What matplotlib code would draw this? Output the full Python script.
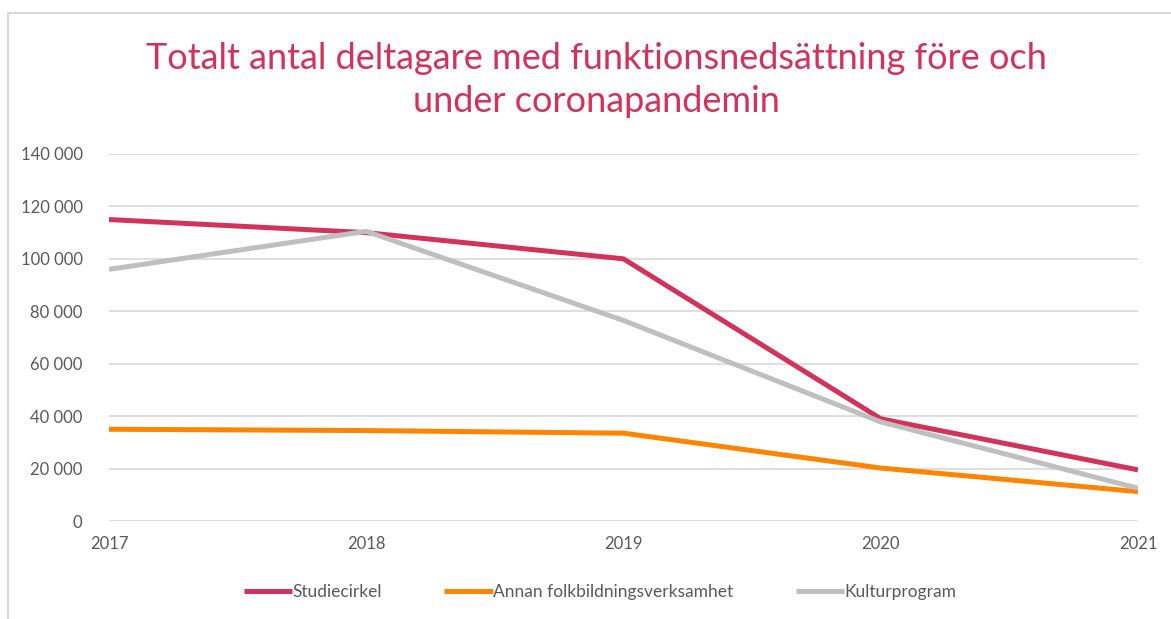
import matplotlib
matplotlib.use("Agg")
import matplotlib.pyplot as plt
from matplotlib.patches import Rectangle
from matplotlib.ticker import FuncFormatter

years = [2017, 2018, 2019, 2020, 2021]
series_names = ["Studiecirkel", "Annan folkbildningsverksamhet", "Kulturprogram"]
studiecirkel = [115000, 110000, 100000, 39000, 19500]
annan = [35000, 34500, 33500, 20200, 11200]
kulturprogram = [96000, 110500, 76500, 37800, 12500]
colors = ["#D1335C", "#FF8500", "#BFBFBF"]
y_ticks = [0, 20000, 40000, 60000, 80000, 100000, 120000, 140000]
title = "Totalt antal deltagare med funktionsnedsättning före och\nunder coronapandemin"

plt.rcParams['font.family'] = ['Lato', 'DejaVu Sans']

W, H = 1171, 619
fig = plt.figure(figsize=(W / 100, H / 100), dpi=100)
fig.patch.set_facecolor("white")

# chart border
fig.patches.append(Rectangle((8 / W, -0.1), 1.2, (H - 13) / H + 0.1, transform=fig.transFigure,
                             fill=False, edgecolor="#D9D9D9", linewidth=1.5))

ax = fig.add_axes([109 / W, 1 - 521 / H, (1138 - 109) / W, (521 - 154) / H])
for name, vals, c in zip(series_names, [studiecirkel, annan, kulturprogram], colors):
    ax.plot(years, vals, color=c, linewidth=3.6, label=name, solid_capstyle="butt", zorder=3)

ax.set_xlim(years[0], years[-1])
ax.set_ylim(0, 140000)
ax.set_yticks(y_ticks)
ax.yaxis.set_major_formatter(FuncFormatter(lambda v, p: f"{int(v):,}".replace(",", " ")))
ax.set_xticks(years)
ax.grid(axis="y", color="#D9D9D9", linewidth=1.2, zorder=0)
for s in ax.spines.values():
    s.set_visible(False)
ax.tick_params(axis="both", length=0, colors="#595959", labelsize=12)
ax.tick_params(axis="y", pad=19)
ax.tick_params(axis="x", pad=11)

fig.text(596 / W, 1 - 80 / H, title, ha="center", va="center", fontsize=26,
         color="#D1335C", linespacing=1.4)

leg = fig.legend(loc="center", bbox_to_anchor=(600 / W, 1 - 592 / H), ncol=3, frameon=False,
                 fontsize=12.5, handlelength=2.8, handletextpad=0.0, columnspacing=3.6)
for t in leg.get_texts():
    t.set_color("#595959")

fig.savefig("out.png", dpi=100)
